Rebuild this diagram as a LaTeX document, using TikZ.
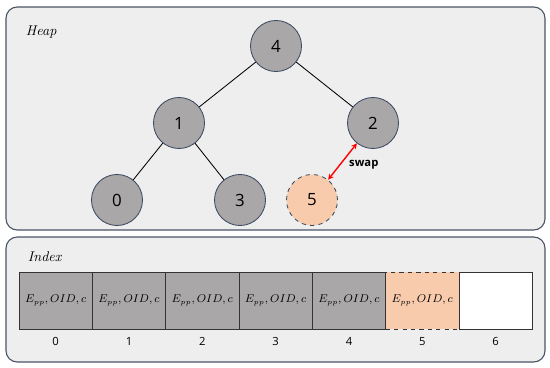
\documentclass[tikz,border=0pt]{standalone}
\usepackage{amsmath}
\usepackage{fontspec}
\newfontfamily\numfont{Open Sans}
\usetikzlibrary{arrows.meta,positioning}
\definecolor{panelbg}{HTML}{EEEEEE}
\definecolor{panelline}{HTML}{4A5566}
\definecolor{keygray}{HTML}{A9A7A7}
\definecolor{keyline}{HTML}{3B4A61}
\definecolor{peach}{HTML}{F8CBAD}
\begin{document}
\begin{tikzpicture}[x=0.025cm,y=-0.025cm,>={Stealth[length=4pt,width=4pt]},
  panel/.style={draw=panelline,fill=panelbg,line width=0.8pt,rounded corners=8pt},
  key/.style={circle,draw=keyline,fill=keygray,line width=0.6pt,minimum size=1.275cm,inner sep=0pt,font=\numfont\large},
  newkey/.style={key,fill=peach,dashed},
  slot/.style={draw=black!80,fill=keygray,line width=0.6pt,minimum width=1.833cm,minimum height=1.425cm,inner sep=0pt,font=\fontsize{7.8}{9}\selectfont},
  slotnum/.style={font=\numfont\footnotesize}]
\useasboundingbox (0,0) rectangle (550,367);
\draw[panel] (6,7) rectangle (545,230);
\draw[panel] (6,237) rectangle (545,362);
\node[anchor=west,font=\normalsize\itshape] (heap) at (21,32) {Heap};
\node[anchor=west,font=\normalsize\itshape] (index) at (23,257) {Index};
\node[key] (k4) at (276,46) {4};
\node[key] (k1) at (179,123) {1};
\node[key] (k2) at (373,123) {2};
\node[key] (k0) at (117,200) {0};
\node[key] (k3) at (240,200) {3};
\node[newkey] (k5) at (312,200) {5};
\draw[line width=0.6pt] (k4)--(k1);
\draw[line width=0.6pt] (k4)--(k2);
\draw[line width=0.6pt] (k1)--(k0);
\draw[line width=0.6pt] (k1)--(k3);
\draw[<->,red,line width=1pt] (k5)--node[pos=0.4,right=3pt,font=\numfont\bfseries\footnotesize,text=black]{swap}(k2);
\node[slot] (c0) at (55.7,300.5) {$E_{pp}, OID, c$};
\node[slot] (c1) at (129,300.5) {$E_{pp}, OID, c$};
\node[slot] (c2) at (202.3,300.5) {$E_{pp}, OID, c$};
\node[slot] (c3) at (275.6,300.5) {$E_{pp}, OID, c$};
\node[slot] (c4) at (349,300.5) {$E_{pp}, OID, c$};
\node[slot,fill=white] (c6) at (495.6,300.5) {};
\node[slot,fill=peach,dashed] (c5) at (422.3,300.5) {$E_{pp}, OID, c$};
\node[slotnum,below=2pt of c0] (n0) {0};
\node[slotnum,below=2pt of c1] (n1) {1};
\node[slotnum,below=2pt of c2] (n2) {2};
\node[slotnum,below=2pt of c3] (n3) {3};
\node[slotnum,below=2pt of c4] (n4) {4};
\node[slotnum,below=2pt of c5] (n5) {5};
\node[slotnum,below=2pt of c6] (n6) {6};
\end{tikzpicture}
\end{document}
